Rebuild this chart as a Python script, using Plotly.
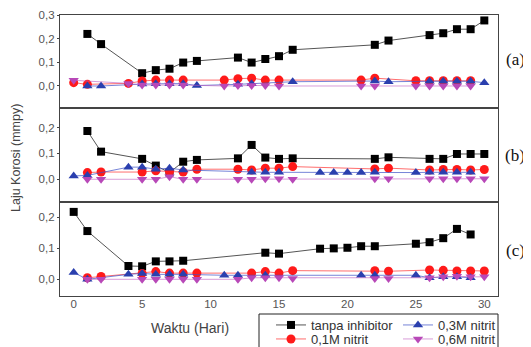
import plotly.graph_objects as go

# ---------------- data ----------------
series_names = ["tanpa inhibitor", "0,1M nitrit", "0,3M nitrit", "0,6M nitrit"]
panel_labels = ["(a)", "(b)", "(c)"]
x_ticks = [0, 5, 10, 15, 20, 25, 30]
y_ticks = [0.0, 0.1, 0.2, 0.3]
y_tick_text = ["0,0", "0,1", "0,2", "0,3"]

# panel (a)
a_black_x = [1, 2, 5, 6, 7, 8, 9, 12, 13, 14, 15, 16, 22, 23, 26, 27, 28, 29, 30]
a_black_y = [0.22, 0.177, 0.054, 0.067, 0.073, 0.099, 0.106, 0.12, 0.099, 0.114, 0.126, 0.153,
             0.174, 0.192, 0.215, 0.223, 0.24, 0.24, 0.277]
a_red_x = [0, 1, 4, 5, 6, 7, 8, 11, 12, 13, 14, 15, 21, 22, 25, 26, 27, 28, 29]
a_red_y = [0.014, 0.007, 0.011, 0.021, 0.025, 0.025, 0.025, 0.025, 0.031, 0.033, 0.025, 0.025,
           0.025, 0.033, 0.022, 0.022, 0.022, 0.022, 0.022]
a_blue_x = [1, 2, 5, 6, 7, 8, 9, 12, 13, 16, 22, 23, 26, 27, 28, 29, 30]
a_blue_y = [0.0, 0.0, 0.008, 0.01, 0.01, 0.01, 0.002, 0.007, 0.01, 0.018, 0.021, 0.018,
            0.02, 0.02, 0.02, 0.02, 0.014]
a_mag_x = [0, 4, 5, 6, 7, 8, 11, 12, 13, 14, 15, 21, 22, 25, 26, 27, 28, 29]
a_mag_y = [0.024, 0.011, 0.004, 0.004, 0.004, 0.004, 0.0, 0.002, 0.002, 0.002, 0.0, 0.0,
           0.0, 0.0, 0.0, 0.0, 0.0, 0.0]

# panel (b)
b_black_x = [1, 2, 5, 6, 7, 8, 9, 12, 13, 14, 15, 16, 22, 23, 26, 27, 28, 29, 30]
b_black_y = [0.187, 0.107, 0.079, 0.053, 0.026, 0.068, 0.075, 0.081, 0.133, 0.084, 0.079, 0.081,
             0.079, 0.085, 0.079, 0.079, 0.098, 0.098, 0.098]
b_red_x = [1, 2, 5, 6, 7, 8, 9, 12, 13, 14, 15, 16, 22, 23, 26, 27, 28, 29, 30]
b_red_y = [0.026, 0.028, 0.028, 0.033, 0.03, 0.028, 0.039, 0.039, 0.036, 0.043, 0.043, 0.049,
           0.04, 0.043, 0.036, 0.038, 0.038, 0.036, 0.038]
b_blue_x = [0, 1, 4, 5, 6, 7, 8, 13, 14, 15, 18, 19, 20, 21, 22, 25, 26, 27, 28, 29]
b_blue_y = [0.013, 0.015, 0.047, 0.047, 0.039, 0.043, 0.036, 0.027, 0.027, 0.027, 0.026, 0.026,
            0.026, 0.026, 0.027, 0.026, 0.027, 0.027, 0.027, 0.027]
b_mag_x = [1, 2, 5, 6, 7, 8, 9, 12, 13, 14, 15, 16, 22, 23, 26, 27, 28, 29, 30]
b_mag_y = [0.0, 0.0, 0.0, 0.0, 0.01, 0.0, 0.0, 0.0, 0.0, 0.002, 0.002, 0.0, 0.002, 0.002,
           0.002, 0.002, 0.002, 0.002, 0.002]

# panel (c)
c_black_x = [0, 1, 4, 5, 6, 7, 8, 14, 15, 18, 19, 20, 21, 22, 25, 26, 27, 28, 29]
c_black_y = [0.218, 0.156, 0.043, 0.042, 0.058, 0.058, 0.06, 0.086, 0.083, 0.099, 0.1, 0.102,
             0.107, 0.107, 0.115, 0.12, 0.133, 0.163, 0.145]
c_red_x = [1, 2, 5, 6, 7, 8, 9, 13, 14, 15, 16, 22, 23, 26, 27, 28, 29, 30]
c_red_y = [0.005, 0.009, 0.019, 0.025, 0.02, 0.02, 0.02, 0.02, 0.025, 0.02, 0.028, 0.028,
           0.026, 0.03, 0.029, 0.027, 0.027, 0.027]
c_blue_x = [0, 1, 4, 5, 6, 7, 8, 11, 12, 14, 21, 22, 25, 26, 27, 28, 29]
c_blue_y = [0.022, 0.0, 0.016, 0.019, 0.016, 0.016, 0.016, 0.013, 0.013, 0.013, 0.013, 0.013,
            0.013, 0.005, 0.008, 0.008, 0.005]
c_mag_x = [1, 2, 5, 6, 7, 8, 9, 12, 13, 14, 15, 16, 22, 23, 26, 27, 28, 29, 30]
c_mag_y = [0.0, 0.0, 0.0, 0.0, 0.0, 0.0, 0.0, 0.0, 0.005, 0.005, 0.005, 0.003, 0.003, 0.003,
           0.005, 0.008, 0.01, 0.008, 0.008]

panels = [
    [(a_black_x, a_black_y), (a_red_x, a_red_y), (a_blue_x, a_blue_y), (a_mag_x, a_mag_y)],
    [(b_black_x, b_black_y), (b_red_x, b_red_y), (b_blue_x, b_blue_y), (b_mag_x, b_mag_y)],
    [(c_black_x, c_black_y), (c_red_x, c_red_y), (c_blue_x, c_blue_y), (c_mag_x, c_mag_y)],
]

# ---------------- styles / layout ----------------
marker_colors = ["#000000", "#ff1a1a", "#2a3fae", "#b848b8"]
line_colors = ["#555555", "rgba(255,60,60,0.75)", "rgba(60,80,200,0.7)", "rgba(190,90,190,0.6)"]
symbols = ["square", "circle", "triangle-up", "triangle-down"]
legend_ids = ["legend", "legend2", "legend3", "legend4"]

# page has an 8px body margin: figure is sized to the visible part of the window
OFF = 8
WIN_W, WIN_H = 531, 347
W, H = WIN_W - OFF, WIN_H - OFF


def sx(px):
    return (px - OFF) / W


def sy(py):
    return 1 - (py - OFF) / H


x_dom = [sx(60), sx(498)]
panel_edges = [15, 108, 202, 296]
y_doms = [[sy(panel_edges[i + 1]), sy(panel_edges[i])] for i in range(3)]
y_ranges = [[-0.093, 0.3], [-0.088, 0.276], [-0.054, 0.25]]

fig = go.Figure()
for p, panel in enumerate(panels):
    suffix = "" if p == 0 else str(p + 1)
    for s, (xs, ys) in enumerate(panel):
        fig.add_trace(go.Scatter(
            x=xs, y=ys, mode="lines+markers", name=series_names[s],
            xaxis="x" + suffix, yaxis="y" + suffix,
            line=dict(color=line_colors[s], width=1),
            marker=dict(symbol=symbols[s], size=8 if s == 0 else 9, color=marker_colors[s]),
            showlegend=(p == 2), legend=legend_ids[s],
        ))

axis_line = "#444444"
leg_font = dict(size=13, color="#333333", family="Liberation Sans, Arial, sans-serif")
# legend positions (left px, top px) in window pixels: rows at ~324 and ~338
leg_pos = [(271, 310), (271, 324), (398, 310), (398, 324)]
layout = dict(
    width=W, height=H, margin=dict(l=0, r=0, t=0, b=0, autoexpand=False),
    paper_bgcolor="white", plot_bgcolor="white",
    font=dict(family="Liberation Sans, Arial, sans-serif", color="#444444", size=11),
    showlegend=True,
    shapes=[dict(type="rect", xref="paper", yref="paper", x0=sx(259), x1=sx(498),
                 y0=sy(360), y1=sy(314), line=dict(color="#222222", width=1),
                 fillcolor="rgba(0,0,0,0)", layer="below")],
)
for lid, (lx, ly) in zip(legend_ids, leg_pos):
    layout[lid] = dict(orientation="v", x=sx(lx), y=sy(ly), xanchor="left", yanchor="top",
                       borderwidth=0, bgcolor="rgba(0,0,0,0)", font=leg_font, itemwidth=30)

for p in range(3):
    suffix = "" if p == 0 else str(p + 1)
    layout["xaxis" + suffix] = dict(
        domain=x_dom, anchor="y" + suffix, range=[-1, 31],
        tickvals=x_ticks, showticklabels=(p == 2), ticks="", ticklabelstandoff=-3,
        showgrid=False, zeroline=False, showline=True, linecolor=axis_line, linewidth=1.2,
        mirror=True, tickfont=dict(size=11.5, color="#555555"),
        **({} if p == 0 else {"matches": "x"}),
    )
    layout["yaxis" + suffix] = dict(
        domain=y_doms[p], anchor="x" + suffix, range=y_ranges[p],
        tickvals=y_ticks, ticktext=y_tick_text, ticks="outside", ticklen=2,
        tickcolor=axis_line, showgrid=False, zeroline=False, showline=True,
        linecolor=axis_line, linewidth=1.2, mirror=True,
        tickfont=dict(size=11.5, color="#555555"),
    )
fig.update_layout(**layout)

annotations = [
    dict(text="Laju Korosi (mmpy)", x=sx(16), y=sy(158), xref="paper", yref="paper",
         xanchor="center", yanchor="middle",
         textangle=-90, showarrow=False, font=dict(size=12.5, color="#444444")),
    dict(text="Waktu (Hari)", x=sx(190), y=sy(328), xref="paper", yref="paper",
         xanchor="center", yanchor="middle",
         showarrow=False, font=dict(size=14, color="#444444")),
]
for p, lab in enumerate(panel_labels):
    yc = [60, 155, 250][p]
    annotations.append(dict(text=lab, x=sx(515), y=sy(yc), xref="paper", yref="paper",
                            xanchor="center", yanchor="middle", showarrow=False,
                            font=dict(size=17, color="#111111",
                                      family="Liberation Serif, Times New Roman, serif")))
fig.update_layout(annotations=annotations)

fig.write_html("out.html")
